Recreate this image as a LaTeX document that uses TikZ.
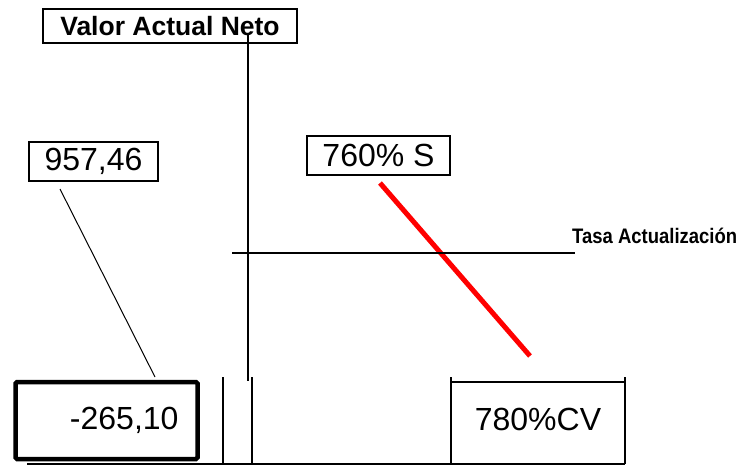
\documentclass[tikz,border=0pt]{standalone}
\usepackage{fontspec}
\setmainfont{Liberation Sans}
\begin{document}
\begin{tikzpicture}[x=1pt,y=-1pt,
  lbl/.style={font=\fontsize{32}{36}\selectfont, inner sep=0pt},
  boxed/.style={draw, line width=2pt},
  thin line/.style={line width=1pt},
  axis/.style={line width=2pt},
  redline/.style={draw=red, line width=5pt}]
\useasboundingbox (0,0) rectangle (739,475);
% axis (drawn first, starts inside the title box)
\coordinate (axtop) at (247.5,33);
\coordinate (axbot) at (247.5,381);
\draw[axis] (axtop) -- (axbot);
% title
\node[boxed, minimum width=254pt, minimum height=34pt, inner sep=0pt,
  font=\bfseries\fontsize{26.5}{30}\selectfont] (van) at (170,26) {Valor Actual Neto};
% labels
\node[boxed, lbl, minimum width=129pt, minimum height=39pt] (v957) at (93.5,161.5) {957,46};
\node[boxed, lbl, minimum width=143pt, minimum height=39pt] (v760) at (378.5,155.5) {760\% S};
\node[draw, line width=4.5pt, rounded corners=1.5pt, lbl, inner xsep=19pt,
  text width=144pt, align=right, minimum height=77pt] (v265) at (106.5,420.5) {-265,10};
\node[lbl] (cv) at (538,419) {780\%CV};
% connectors
\coordinate (c1) at (60,189);
\coordinate (c2) at (155,377);
\draw[thin line] (c1) -- (c2);
\coordinate (r1) at (380,183);
\coordinate (r2) at (530,356);
\draw[redline] (r1) -- (r2);
% tasa line
\coordinate (t1) at (232,253);
\coordinate (t2) at (575,253);
\draw[line width=2.5pt] (t1) -- (t2);
\node[anchor=base west, inner sep=0pt, xscale=0.88,
  font=\bfseries\fontsize{21}{24}\selectfont] (tasa) at (572,243) {Tasa Actualización};
% bottom lines
\coordinate (b1) at (27,463.5);
\coordinate (b2) at (625,463.5);
\draw[line width=2pt] (b1) -- (b2);
\coordinate (l1) at (223,377);
\coordinate (l2) at (223,463.5);
\coordinate (m1) at (252,377);
\coordinate (m2) at (252,463.5);
\draw[line width=2pt] (l1) -- (l2) (m1) -- (m2);
% open box around 780%CV
\coordinate (cvl1) at (451,377);
\coordinate (cvl2) at (451,463.5);
\coordinate (cvr1) at (625,377);
\coordinate (cvr2) at (625,463.5);
\coordinate (cvt1) at (451,382);
\coordinate (cvt2) at (625,382);
\draw[line width=2pt] (cvl1) -- (cvl2) (cvr1) -- (cvr2) (cvt1) -- (cvt2);
\end{tikzpicture}
\end{document}
